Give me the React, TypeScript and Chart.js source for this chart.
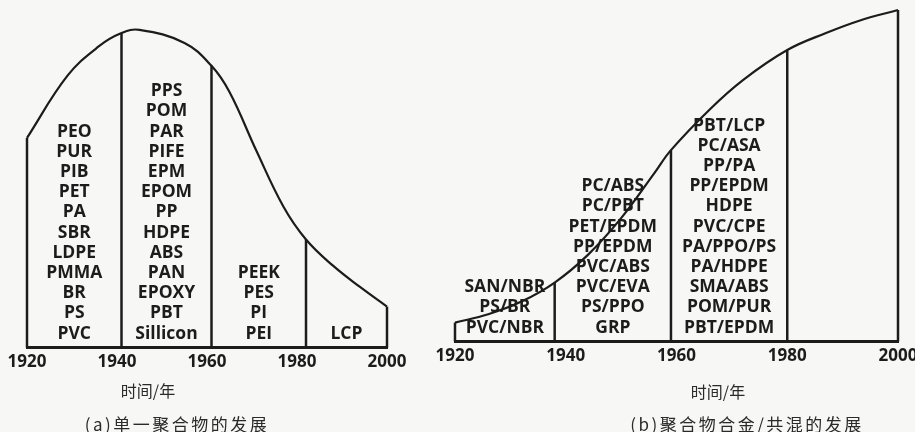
import React, { useEffect, useRef } from "react";
import { Chart, registerables } from "chart.js";

Chart.register(...registerables);

// ---------- Data ----------
const tickYears = [1920, 1940, 1960, 1980, 2000];

// Panel (a): single polymers
const curveYearsA = [1920, 1929, 1936, 1941, 1945, 1955, 1961, 1965, 1971, 1977, 1982, 1988, 1994, 2000];
const curveValuesA = [64, 83, 92, 96, 97, 93, 86, 78, 60, 43, 33, 25, 18.5, 12.5];
const dividerYearsA = [1920, 1941, 1961, 1982, 2000];
const columnsA = [
  ["PEO", "PUR", "PIB", "PET", "PA", "SBR", "LDPE", "PMMA", "BR", "PS", "PVC"],
  ["PPS", "POM", "PAR", "PIFE", "EPM", "EPOM", "PP", "HDPE", "ABS", "PAN", "EPOXY", "PBT", "Sillicon"],
  ["PEEK", "PES", "PI", "PEI"],
  ["LCP"],
];

// Panel (b): polymer alloys / blends
const curveYearsB = [1920, 1926, 1932, 1938, 1944, 1950, 1956, 1959, 1966, 1972, 1980, 1987, 1993, 2000];
const curveValuesB = [5.7, 8.2, 12.0, 17.7, 26.0, 37.0, 50.5, 57.4, 69.6, 78.4, 87.4, 92.5, 96.2, 99.4];
const dividerYearsB = [1920, 1938, 1959, 1980, 2000];
const columnsB = [
  ["SAN/NBR", "PS/BR", "PVC/NBR"],
  ["PC/ABS", "PC/PBT", "PET/EPDM", "PP/EPDM", "PVC/ABS", "PVC/EVA", "PS/PPO", "GRP"],
  ["PBT/LCP", "PC/ASA", "PP/PA", "PP/EPDM", "HDPE", "PVC/CPE", "PA/PPO/PS", "PA/HDPE", "SMA/ABS", "POM/PUR", "PBT/EPDM"],
];

const axisTitle = "时间/年";
const captionA = "(a)单一聚合物的发展";
const captionB = "(b)聚合物合金/共混的发展";

// ---------- Styling ----------
const INK = "#1c1c1c";
const BG = "#f7f7f5";
const LABEL_FONT = "'Open Sans', 'DejaVu Sans', sans-serif";

type PanelProps = {
  curveYears: number[];
  curveValues: number[];
  dividerYears: number[];
  columns: string[][];
  left: number;
  top: number;
  width: number;
  height: number;
  padding: { left: number; right: number; top: number; bottom: number };
};

function Panel(p: PanelProps) {
  const ref = useRef<HTMLCanvasElement | null>(null);
  useEffect(() => {
    if (!ref.current) return;
    const curve = p.curveYears.map((x, i) => ({ x, y: p.curveValues[i] }));
    const topOf = (yr: number) => p.curveValues[p.curveYears.indexOf(yr)];
    const dividerSets = p.dividerYears.map((yr) => ({
      data: [
        { x: yr, y: 0 },
        { x: yr, y: topOf(yr) },
      ],
      borderColor: INK,
      borderWidth: 2.5,
      pointRadius: 0,
      clip: false,
    }));
    const labelsPlugin = {
      id: "columnLabels",
      afterDatasetsDraw(chart: any) {
        const ctx = chart.ctx;
        const xs = chart.scales.x;
        const bottom = chart.chartArea.bottom;
        ctx.save();
        ctx.fillStyle = INK;
        ctx.font = `700 17.5px ${LABEL_FONT}`;
        ctx.textAlign = "center";
        ctx.textBaseline = "middle";
        p.columns.forEach((col, ci) => {
          const mid = (p.dividerYears[ci] + p.dividerYears[ci + 1]) / 2;
          const cx = xs.getPixelForValue(mid);
          const n = col.length;
          col.forEach((txt, li) => {
            const fromBottom = n - 1 - li;
            ctx.fillText(txt, cx, bottom - 14 - fromBottom * 20.2);
          });
        });
        ctx.restore();
      },
    };
    const chart = new Chart(ref.current, {
      type: "line",
      data: {
        datasets: [
          {
            data: curve,
            borderColor: INK,
            borderWidth: 2.2,
            pointRadius: 0,
            tension: 0.4,
            clip: false,
          } as any,
          ...dividerSets,
        ],
      },
      options: {
        animation: false,
        responsive: false,
        maintainAspectRatio: false,
        events: [],
        layout: { padding: p.padding },
        plugins: { legend: { display: false }, tooltip: { enabled: false } },
        scales: {
          x: {
            type: "linear",
            min: 1920,
            max: 2000,
            afterBuildTicks: (scale: any) => {
              scale.ticks = tickYears.map((v) => ({ value: v }));
            },
            afterFit: (scale: any) => {
              scale.paddingLeft = 0;
              scale.paddingRight = 0;
            },
            grid: { display: false, drawTicks: false },
            border: { display: true, color: INK, width: 3 },
            ticks: {
              color: INK,
              padding: 4,
              maxRotation: 0,
              autoSkip: false,
              font: { family: LABEL_FONT, size: 17, weight: "bold" },
              callback: (v: any) => String(v),
            },
          },
          y: { display: false, min: 0, max: 100 },
        },
      } as any,
      plugins: [labelsPlugin],
    });
    return () => chart.destroy();
  }, []);
  return (
    <canvas
      ref={ref}
      width={p.width}
      height={p.height}
      style={{ position: "absolute", left: p.left, top: p.top }}
    />
  );
}

const textStyle = (x: number, y: number, size: number, spacing = 0): React.CSSProperties => ({
  position: "absolute",
  left: x,
  top: y,
  transform: "translate(-50%, -50%)",
  whiteSpace: "nowrap",
  fontFamily: "'Noto Sans CJK SC', sans-serif",
  fontSize: size,
  letterSpacing: spacing,
  color: "#2a2a2a",
});

export default function App() {
  return (
    <div
      style={{
        position: "fixed",
        left: 0,
        top: 0,
        width: 915,
        height: 432,
        overflow: "hidden",
        background: BG,
      }}
    >
      <Panel
        curveYears={curveYearsA}
        curveValues={curveValuesA}
        dividerYears={dividerYearsA}
        columns={columnsA}
        left={0}
        top={0}
        width={420}
        height={380}
        padding={{ left: 27, right: 33, top: 20, bottom: 4 }}
      />
      <Panel
        curveYears={curveYearsB}
        curveValues={curveValuesB}
        dividerYears={dividerYearsB}
        columns={columnsB}
        left={430}
        top={0}
        width={485}
        height={380}
        padding={{ left: 25, right: 17, top: 8, bottom: 10 }}
      />
      <div style={textStyle(148, 390, 16)}>{axisTitle}</div>
      <div style={textStyle(718, 391, 16)}>{axisTitle}</div>
      <div style={textStyle(177, 423, 17, 2.5)}>{captionA}</div>
      <div style={textStyle(747, 423, 17, 2.5)}>{captionB}</div>
    </div>
  );
}
